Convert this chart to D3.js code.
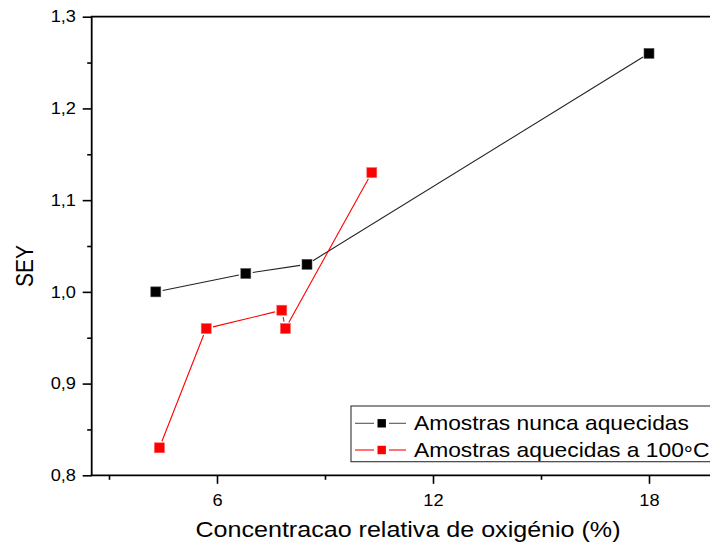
<!DOCTYPE html>
<html>
<head>
<meta charset="utf-8">
<script src="https://cdn.jsdelivr.net/npm/d3@7"></script>
<style>
  html, body { margin: 0; padding: 0; background: #fff; }
  svg { display: block; }
  text { font-family: "Liberation Sans", Arial, sans-serif; fill: #000; }
</style>
</head>
<body>
<svg id="chart" width="710" height="548"></svg>
<script>
// Series: samples never heated vs. samples heated to 100 °C
const unheatedX = [4.3, 6.8, 8.5, 18];
const unheatedY = [1.00, 1.02, 1.03, 1.26];
const heatedX = [4.4, 5.7, 7.8, 7.9, 10.3];
const heatedY = [0.83, 0.96, 0.98, 0.96, 1.13];

const seriesNames = ["Amostras nunca aquecidas", "Amostras aquecidas a 100\u00B0C"];
const seriesColors = ["#000000", "#ff0000"];
const lineColors = ["#222222", "#ff0000"];

const xMajorTicks = [6, 12, 18];
const xMinorTicks = [3, 9, 15];
const yMajorTicks = [0.8, 0.9, 1.0, 1.1, 1.2, 1.3];
const yMinorTicks = [0.85, 0.95, 1.05, 1.15, 1.25];

const xTitle = "Concentracao relativa de oxig\u00E9nio (%)";
const yTitle = "SEY";

const SX = 1.14; // horizontal stretch applied to all lettering

const svg = d3.select("#chart");
const plotLeft = 91.7, plotTop = 16.7, plotBottom = 475.3;

const x = d3.scaleLinear().domain([2.5, 20]).range([91, 721]);
const y = d3.scaleLinear().domain([0.8, 1.3]).range([plotBottom, plotTop]);

const fmt = d => d3.format(".1f")(d).replace(".", ",");

// Minor ticks
svg.append("g").attr("transform", `translate(${plotLeft},0)`)
  .call(d3.axisLeft(y).tickValues(yMinorTicks).tickSize(4.5).tickFormat(""))
  .call(g => g.select(".domain").remove())
  .call(g => g.selectAll("line").attr("stroke", "#000").attr("stroke-width", 1.6));
svg.append("g").attr("transform", `translate(0,${plotBottom})`)
  .call(d3.axisBottom(x).tickValues(xMinorTicks).tickSize(4.5).tickFormat(""))
  .call(g => g.select(".domain").remove())
  .call(g => g.selectAll("line").attr("stroke", "#000").attr("stroke-width", 1.6));

// Major y axis
svg.append("g").attr("transform", `translate(${plotLeft},0)`)
  .call(d3.axisLeft(y).tickValues(yMajorTicks).tickSize(9).tickSizeOuter(0).tickFormat(fmt))
  .call(g => g.select(".domain").remove())
  .call(g => g.selectAll("line").attr("stroke", "#000").attr("stroke-width", 1.6))
  .call(g => g.selectAll("text")
    .attr("font-size", 16).attr("font-family", "'Liberation Sans', Arial, sans-serif")
    .attr("fill", "#000").attr("text-anchor", "end")
    .attr("x", -15.7 / SX).attr("dy", "0.33em")
    .attr("transform", `scale(${SX},1)`));

// Major x axis
svg.append("g").attr("transform", `translate(0,${plotBottom})`)
  .call(d3.axisBottom(x).tickValues(xMajorTicks).tickSize(8.5).tickSizeOuter(0).tickFormat(d3.format("d")))
  .call(g => g.select(".domain").remove())
  .call(g => g.selectAll("line").attr("stroke", "#000").attr("stroke-width", 1.6))
  .call(g => g.selectAll("text")
    .attr("font-size", 16).attr("font-family", "'Liberation Sans', Arial, sans-serif")
    .attr("fill", "#000").attr("text-anchor", "middle")
    .attr("y", 30.7).attr("dy", 0).attr("x", 0)
    .attr("transform", `scale(${SX},1)`));

// Frame lines
svg.append("line").attr("x1", plotLeft).attr("x2", plotLeft).attr("y1", plotTop).attr("y2", plotBottom)
  .attr("stroke", "#000").attr("stroke-width", 1.8);
svg.append("line").attr("x1", plotLeft - 0.9).attr("x2", 722).attr("y1", plotBottom).attr("y2", plotBottom)
  .attr("stroke", "#000").attr("stroke-width", 1.8);
svg.append("line").attr("x1", plotLeft - 0.9).attr("x2", 722).attr("y1", plotTop).attr("y2", plotTop)
  .attr("stroke", "#000").attr("stroke-width", 1.8);

// Lines drawn with a small gap around each marker
function gappedSegments(xs, ys, gap) {
  const segs = [];
  for (let i = 0; i < xs.length - 1; i++) {
    const x1 = x(xs[i]), y1 = y(ys[i]), x2 = x(xs[i + 1]), y2 = y(ys[i + 1]);
    const len = Math.hypot(x2 - x1, y2 - y1);
    if (len <= 2 * gap) continue;
    const ux = (x2 - x1) / len, uy = (y2 - y1) / len;
    segs.push([x1 + ux * gap, y1 + uy * gap, x2 - ux * gap, y2 - uy * gap]);
  }
  return segs;
}

const series = [
  { xs: unheatedX, ys: unheatedY },
  { xs: heatedX, ys: heatedY }
];

series.forEach((s, i) => {
  const g = svg.append("g");
  g.selectAll("line").data(gappedSegments(s.xs, s.ys, 7)).join("line")
    .attr("x1", d => d[0]).attr("y1", d => d[1]).attr("x2", d => d[2]).attr("y2", d => d[3])
    .attr("stroke", lineColors[i]).attr("stroke-width", 1.1);
  g.selectAll("rect").data(s.xs.map((v, j) => [v, s.ys[j]])).join("rect")
    .attr("x", d => x(d[0]) - 5).attr("y", d => y(d[1]) - 5)
    .attr("width", 10).attr("height", 10)
    .attr("fill", seriesColors[i])
    .attr("stroke", i === 0 ? "#555" : "#ff6060").attr("stroke-width", 0.6);
});

// Legend
const leg = svg.append("g");
leg.append("rect").attr("x", 351).attr("y", 406).attr("width", 380).attr("height", 55.7)
  .attr("fill", "#fff").attr("stroke", "#333").attr("stroke-width", 1.1);
const rowY = [423.3, 450];
seriesNames.forEach((name, i) => {
  const cy = rowY[i];
  leg.append("line").attr("x1", 355).attr("x2", 374).attr("y1", cy).attr("y2", cy)
    .attr("stroke", i === 0 ? "#555" : "#ff0000").attr("stroke-width", 1.1);
  leg.append("line").attr("x1", 389).attr("x2", 406).attr("y1", cy).attr("y2", cy)
    .attr("stroke", i === 0 ? "#555" : "#ff0000").attr("stroke-width", 1.1);
  leg.append("rect").attr("x", 377.5).attr("y", cy - 4.2).attr("width", 8.4).attr("height", 8.4)
    .attr("fill", seriesColors[i]);
  const t = leg.append("text")
    .attr("transform", `translate(414,${cy + 7}) scale(${SX},1)`)
    .attr("font-size", 20);
  // the degree ring sits a little lower than a plain superscript
  const parts = name.split("\u00B0");
  t.append("tspan").text(parts[0]);
  if (parts.length > 1) {
    t.append("tspan").attr("dy", "0.2em").text("\u00B0");
    t.append("tspan").attr("dy", "-0.2em").text(parts[1]);
  }
});

// Axis titles
svg.append("text")
  .attr("transform", `translate(408,537) scale(${SX},1)`)
  .attr("text-anchor", "middle").attr("font-size", 22)
  .text(xTitle);
svg.append("text")
  .attr("transform", `translate(33,266) scale(${SX},1) rotate(-90)`)
  .attr("text-anchor", "middle").attr("font-size", 21)
  .text(yTitle);
</script>
</body>
</html>
